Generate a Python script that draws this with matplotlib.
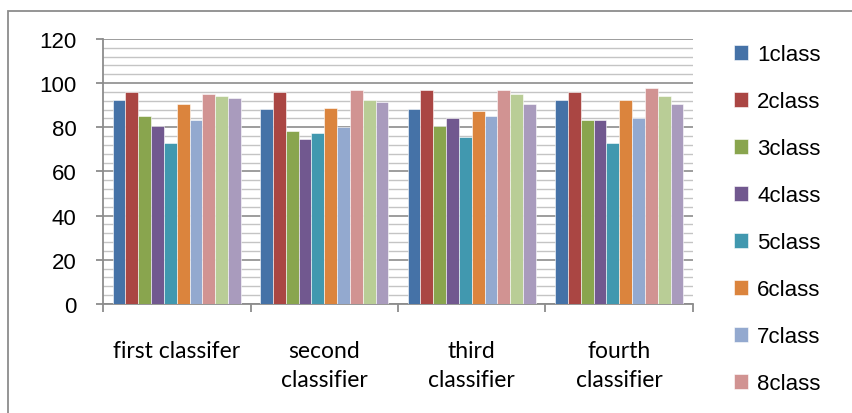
import numpy as np
from matplotlib import pyplot as plt
from matplotlib.patches import Rectangle
from matplotlib.ticker import MultipleLocator

categories = ["first classifer", "second\nclassifier", "third\nclassifier", "fourth\nclassifier"]

class1 = [92.4, 88.1, 88.1, 92.4]
class2 = [95.9, 95.9, 96.8, 95.9]
class3 = [85.2, 78.3, 80.8, 83.5]
class4 = [80.8, 74.8, 84.4, 83.5]
class5 = [73.0, 77.4, 75.8, 73.0]
class6 = [90.5, 88.8, 87.2, 92.4]
class7 = [83.5, 80.1, 85.2, 84.4]
class8 = [94.9, 96.8, 96.8, 97.6]
class9 = [94.1, 92.4, 94.9, 94.1]
class10 = [93.2, 91.5, 90.6, 90.6]

series = [class1, class2, class3, class4, class5, class6, class7, class8, class9, class10]
names = ["1class", "2class", "3class", "4class", "5class", "6class", "7class", "8class", "9class", "10class"]
colors = ["#4572A7", "#AA4643", "#89A54E", "#71588F", "#4198AF",
          "#DB843D", "#93A9CF", "#D19392", "#B9CD96", "#A99BBD"]

fig = plt.figure(figsize=(8.53, 4.14), dpi=100)
ax = fig.add_axes([0.1208, 0.2633, 0.8124 - 0.1208, 0.9034 - 0.2633])

# chart area border (right and bottom fall outside the picture)
fig.patches.append(Rectangle((8 / 853, -0.1), 1.2, 1 - 12 / 414 + 0.1,
                             transform=fig.transFigure, fill=False,
                             edgecolor="#8c8c8c", linewidth=1.3))

x = np.arange(len(categories))
n = len(series)
w = 0.87 / n
bars = []
for i, vals in enumerate(series):
    b = ax.bar(x - 0.435 + w * (i + 0.5), vals, width=w, color=colors[i],
               edgecolor="white", linewidth=0.4, zorder=3)
    bars.append(b)

ax.set_xlim(-0.5, 3.5)
ax.set_ylim(0, 120)
ax.yaxis.set_major_locator(MultipleLocator(20))
ax.yaxis.set_minor_locator(MultipleLocator(4))
ax.grid(axis="y", which="major", color="#8c8c8c", linewidth=1.2, zorder=0)
ax.grid(axis="y", which="minor", color="#c4c4c4", linewidth=1.0, zorder=0)
ax.set_axisbelow(True)

for s in ["top", "right"]:
    ax.spines[s].set_visible(False)
for s in ["left", "bottom"]:
    ax.spines[s].set_color("#8c8c8c")
    ax.spines[s].set_linewidth(1.3)

ax.set_xticks(np.arange(-0.5, 4.0, 1.0))
ax.set_xticklabels([])
ax.set_xticks(x, minor=True)
ax.set_xticklabels(categories, minor=True, fontsize=16.5, family="Lato",
                   va="top", linespacing=1.48)
ax.tick_params(axis="x", which="major", length=6, width=1.3, color="#8c8c8c")
ax.tick_params(axis="x", which="minor", length=0, pad=26)
ax.tick_params(axis="y", which="major", length=5, width=1.3, color="#8c8c8c",
               labelsize=16, pad=14)
ax.tick_params(axis="y", which="minor", length=0)
for t in ax.get_yticklabels():
    t.set_family("Liberation Sans")

fig.legend([b[0] for b in bars[:8]], names[:8], loc="upper left",
           bbox_to_anchor=(725 / 853, 1 - 36 / 414), frameon=False,
           prop={"family": "Liberation Sans", "size": 16},
           handlelength=0.65, handleheight=0.65, handletextpad=0.4,
           labelspacing=1.17, borderaxespad=0)

plt.savefig("out.png", dpi=100)
